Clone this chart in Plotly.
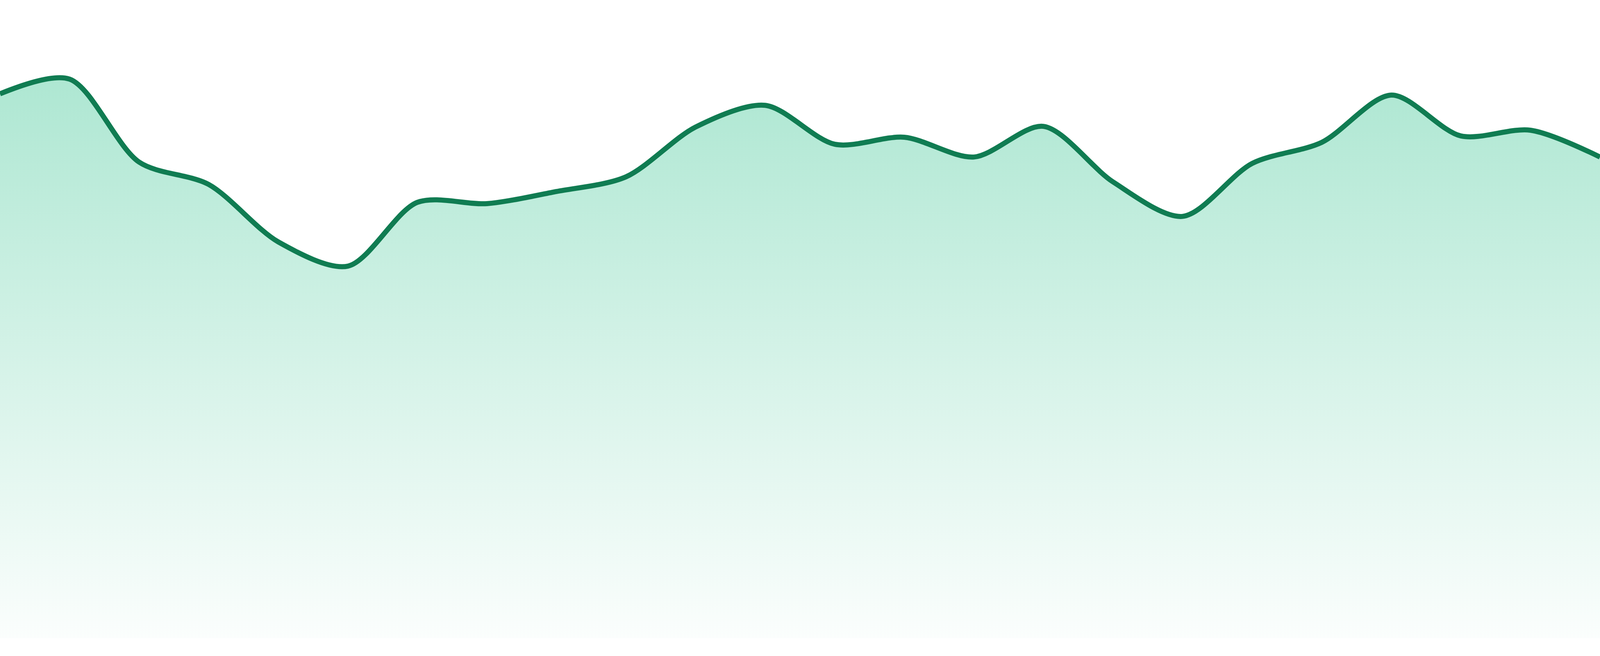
import plotly.graph_objects as go

# hourly readings, 24 points
hours = list(range(24))
values = [85.3, 87.6, 74.6, 71.1, 62.1, 58.3, 68.3, 68.1, 70.0, 72.3, 80.1, 83.5,
          77.4, 78.5, 75.4, 80.2, 71.5, 66.1, 74.4, 77.7, 85.1, 78.7, 79.6, 75.4]

line_color = "#107c52"
fill_top = "rgba(52,195,143,0.40)"
fill_bottom = "rgba(52,195,143,0.02)"

fig = go.Figure()
fig.add_trace(go.Scatter(
    x=hours,
    y=values,
    mode="lines",
    line=dict(color=line_color, width=13, shape="spline", smoothing=0.85),
    fill="tozeroy",
    fillgradient=dict(type="vertical", colorscale=[[0, fill_bottom], [1, fill_top]]),
    hoverinfo="skip",
    showlegend=False,
))

# fill the whole window; keep a thin white band under the area
fig.update_layout(
    autosize=True,
    margin=dict(l=0, r=0, t=0, b=0, pad=0),
    paper_bgcolor="white",
    plot_bgcolor="white",
    xaxis=dict(range=[0, 23], domain=[0, 1], visible=False, showgrid=False, zeroline=False),
    yaxis=dict(range=[0, 100], domain=[0.027, 1], visible=False, showgrid=False, zeroline=False),
)

fig.write_html(
    "out.html",
    default_width="100vw",
    default_height="100vh",
    config={"displayModeBar": False, "responsive": True},
    post_script="document.body.style.margin='0';document.body.style.overflow='hidden';",
)
